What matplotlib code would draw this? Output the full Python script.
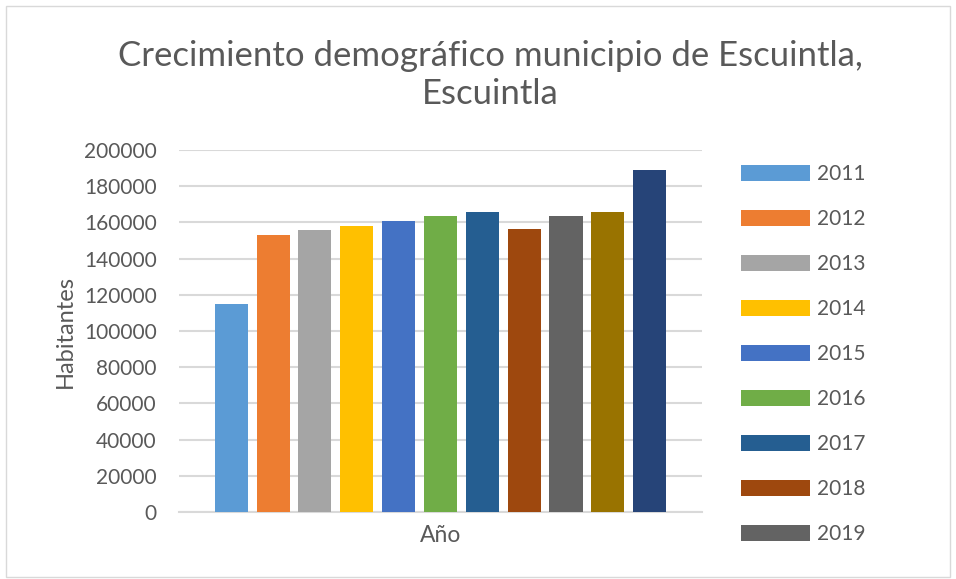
import matplotlib.pyplot as plt
from matplotlib.patches import Rectangle

plt.rcParams['font.family'] = ['Lato', 'DejaVu Sans']

years = ['2011', '2012', '2013', '2014', '2015', '2016',
         '2017', '2018', '2019', '2020', '2021']
habitantes = [115000, 153200, 155900, 158200, 160900, 163700,
              165900, 156500, 163700, 165900, 188700]
colors = ['#5B9BD5', '#ED7D31', '#A5A5A5', '#FFC000', '#4472C4', '#70AD47',
          '#255E91', '#9E480E', '#636363', '#997300', '#264478']
yticks = list(range(0, 200001, 20000))

text_color = '#595959'
grid_color = '#D9D9D9'

fig = plt.figure(figsize=(9.56, 5.79), dpi=100)
fig.patches.append(Rectangle((0.006, 0.004), 0.988, 0.985, transform=fig.transFigure,
                             fill=False, edgecolor='#D9D9D9', linewidth=1.0))

ax = fig.add_axes([0.1872, 0.1157, 0.5471, 0.6252])

# one cluster, one bar per year
bars = []
for i, (year, value, color) in enumerate(zip(years, habitantes, colors)):
    b = ax.bar(i, value, width=0.79, color=color, label=year, zorder=3)
    bars.append(b)

ax.set_xlim(-1.25, len(years) - 1 + 1.25)
ax.set_ylim(0, 200000)
ax.set_yticks(yticks)
ax.set_yticklabels([str(t) for t in yticks])
ax.set_xticks([])
ax.yaxis.grid(True, color=grid_color, linewidth=1.5, zorder=0)
ax.set_axisbelow(True)
for side in ['top', 'right', 'left']:
    ax.spines[side].set_visible(False)
ax.spines['bottom'].set_color(grid_color)
ax.spines['bottom'].set_linewidth(1.5)
ax.tick_params(axis='y', length=0, pad=16, labelsize=15, labelcolor=text_color)

ax.set_xlabel('Año', fontsize=16.5, color=text_color, labelpad=9)
ax.set_ylabel('Habitantes', fontsize=17, color=text_color, labelpad=6)

fig.text(0.513, 0.871, 'Crecimiento demográfico municipio de Escuintla,\nEscuintla',
         ha='center', va='center', fontsize=25, color=text_color, linespacing=1.22)

# legend box only has room for the first nine series
ax.legend(bars[:9], years[:9], loc='upper left', bbox_to_anchor=(0.775, 0.716),
          bbox_transform=fig.transFigure, frameon=False, fontsize=15,
          labelcolor=text_color, handlelength=3.3, handleheight=0.78,
          handletextpad=0.35, labelspacing=1.2, borderpad=0, borderaxespad=0)

fig.savefig('out.png', dpi=100)
